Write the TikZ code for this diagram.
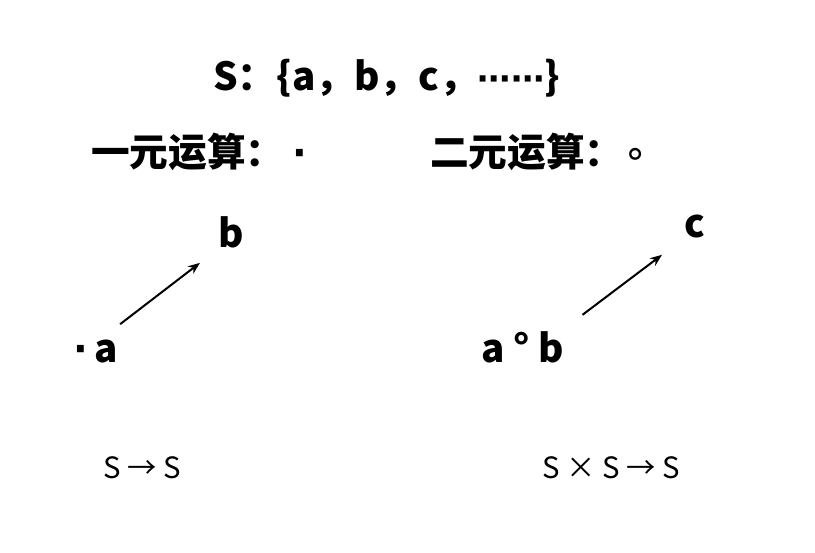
\documentclass[tikz,border=0pt]{standalone}
\usepackage{fontspec}
\newfontfamily\cjk{Noto Sans CJK SC}
\newfontfamily\symb{DejaVu Sans}
\usetikzlibrary{arrows.meta,positioning}

\begin{document}
\begin{tikzpicture}[x=0.75pt,y=-0.75pt,
      text_big/.style={
         inner sep=0pt,
         anchor=base west,
         font=\cjk\bfseries\fontsize{29}{34}\selectfont},
      text_map/.style={
         inner sep=0pt,
         anchor=base west,
         font=\cjk\fontsize{22}{27}\selectfont},
      arrow_black/.style={
        -{Stealth[length=9pt,width=7pt]},
        line width=1.5pt,
        }
]
      \useasboundingbox (0,0) rectangle (815,553);

      %set and operations
      \node[text_big] (set_line) at (213,90) {S：\{a，b，c，{\symb\fontsize{25}{30}\selectfont ⋯⋯}\}};
      \node[text_big] (unary_op) at (91,166) {一元运算：\hspace{6pt}{\symb ·}};
      \node[text_big] (binary_op) at (430,166) {二元运算：{\symb\mdseries ∘}};

      %unary
      \node[text_big] (op_a) at (73,362) {{\symb ·}\,a};
      \node[text_big] (res_b) at (218,247) {b};
      %binary
      \node[text_big] (op_ab) at (481,362) {a ° b};
      \node[text_big] (res_c) at (684,237) {c};

      \draw [arrow_black] ([shift={(2,-15)}]op_a.north east) -- ([shift={(-18,15)}]res_b.south west);
      \draw [arrow_black] ([shift={(18,-16)}]op_ab.north east) -- ([shift={(-22,17)}]res_c.south west);

      %mappings
      \node[text_map] (map_un) at (103,478) {S → S};
      \node[text_map] (map_bin) at (542,478) {S × S → S};
\end{tikzpicture}
\end{document}
